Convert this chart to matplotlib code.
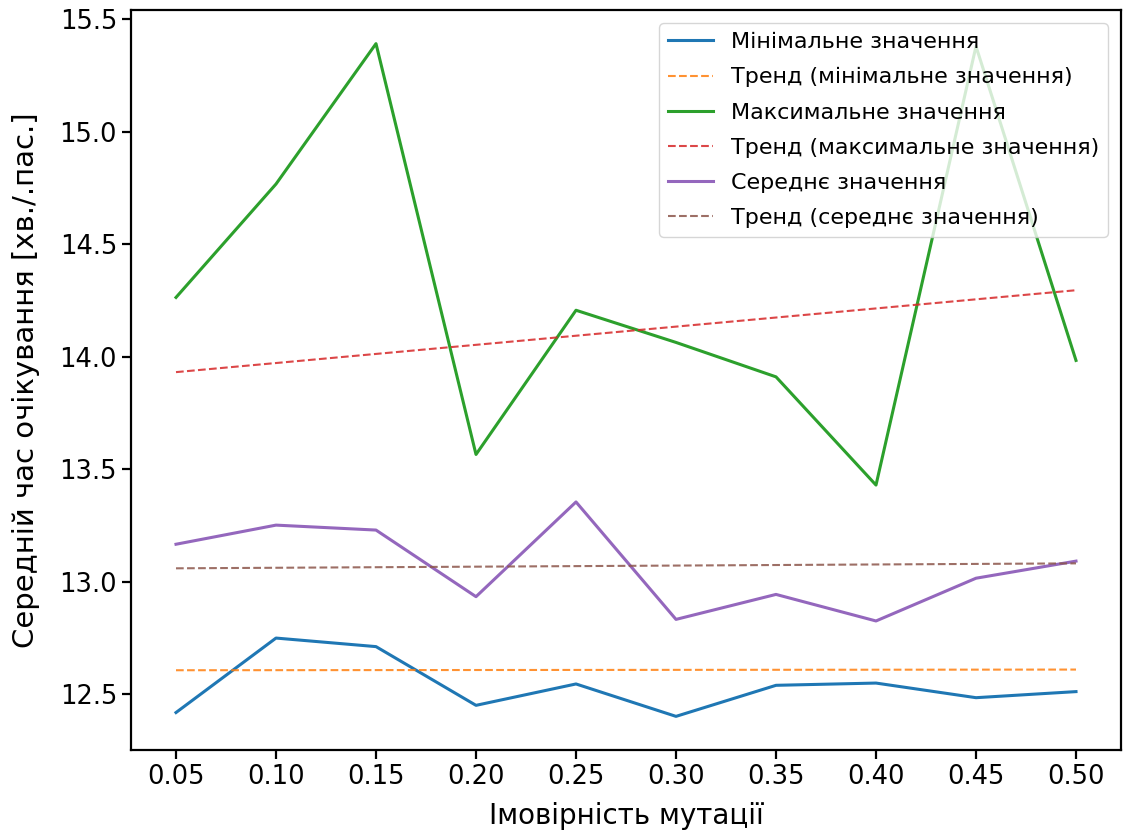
import matplotlib
matplotlib.use("Agg")
import matplotlib.pyplot as plt

mutation_prob = [0.05, 0.10, 0.15, 0.20, 0.25, 0.30, 0.35, 0.40, 0.45, 0.50]
min_values = [12.419, 12.750, 12.712, 12.451, 12.546, 12.402, 12.540, 12.550, 12.485, 12.512]
max_values = [14.264, 14.768, 15.392, 13.566, 14.207, 14.064, 13.911, 13.430, 15.380, 13.984]
mean_values = [13.167, 13.252, 13.230, 12.934, 13.355, 12.833, 12.944, 12.826, 13.016, 13.092]

trend_x = [0.05, 0.50]
trend_min = [12.607, 12.610]
trend_max = [13.932, 14.296]
trend_mean = [13.060, 13.082]

xtick_labels = ["0.05", "0.10", "0.15", "0.20", "0.25", "0.30", "0.35", "0.40", "0.45", "0.50"]

plt.rcParams['font.family'] = ['DejaVu Sans']
fig = plt.figure(figsize=(11.23, 8.38), dpi=100)
ax = fig.add_axes([131/1123, (838-750)/838, (1121-131)/1123, (750-10)/838])

lw = 2.2
tlw = 1.5
ta = 0.85
ax.plot(mutation_prob, min_values, color='C0', lw=lw, label='Мінімальне значення')
ax.plot(trend_x, trend_min, color='C1', lw=tlw, ls='--', alpha=ta, label='Тренд (мінімальне значення)')
ax.plot(mutation_prob, max_values, color='C2', lw=lw, label='Максимальне значення')
ax.plot(trend_x, trend_max, color='C3', lw=tlw, ls='--', alpha=ta, label='Тренд (максимальне значення)')
ax.plot(mutation_prob, mean_values, color='C4', lw=lw, label='Середнє значення')
ax.plot(trend_x, trend_mean, color='C5', lw=tlw, ls='--', alpha=ta, label='Тренд (середнє значення)')

ax.set_xticks(mutation_prob)
ax.set_xticklabels(xtick_labels)
ax.tick_params(labelsize=18.5, width=1.6, length=6.5)
for s in ax.spines.values():
    s.set_linewidth(1.6)
ax.set_xlabel('Імовірність мутації', fontsize=20, labelpad=9)
ax.set_ylabel('Середній час очікування [хв./.пас.]', fontsize=21, labelpad=14)
ax.legend(loc='upper right', fontsize=16, handlelength=2.0, labelspacing=0.68,
          borderaxespad=0.6)

fig.savefig('out.png', dpi=100)
